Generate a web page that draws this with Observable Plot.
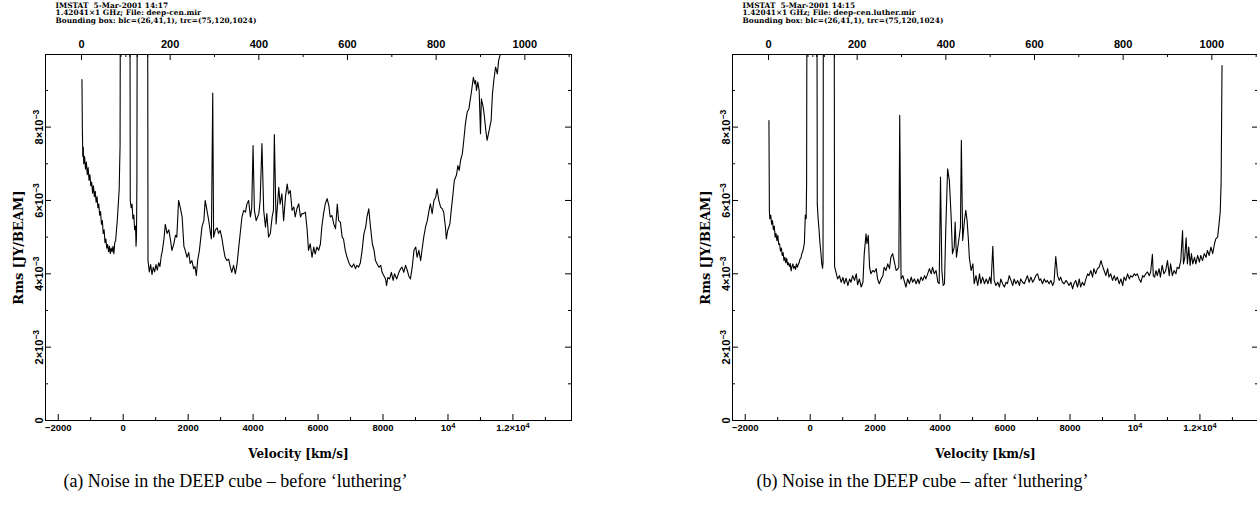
<!DOCTYPE html>
<html>
<head>
<meta charset="utf-8">
<script src="https://cdn.jsdelivr.net/npm/d3@7"></script>
<script src="https://cdn.jsdelivr.net/npm/@observablehq/plot@0.6"></script>
<style>
  body { margin: 0; background: #fff; }
  #page { position: relative; width: 1257px; height: 515px; overflow: hidden; background: #fff; }
  .panel { position: absolute; top: 0; width: 686px; height: 515px; }
  .panel svg { max-width: none !important; width: 686px; height: 515px; }
</style>
</head>
<body>
<div id="page">
  <div class="panel" id="panelA" style="left:0px"></div>
  <div class="panel" id="panelB" style="left:687px"></div>
</div>
<script>
// RMS noise per channel of the DEEP cube, in units of 10^-3 Jy/beam: [channel, rms]
// Values above the top of the plot are the strong-line channels that run off scale.
const rmsBefore = [
  [1, 9.3], [2, 7.9], [3, 7.2], [4, 7.45], [5, 7.0], [7, 7.2], [9, 6.85], [11, 7.05], [13, 6.7],
  [15, 6.9], [17, 6.55], [19, 6.7], [21, 6.4], [23, 6.5], [25, 6.2], [27, 6.4], [29, 6.1],
  [31, 6.25], [33, 5.95], [35, 6.1], [37, 5.8], [39, 5.9], [41, 5.6], [43, 5.7], [45, 5.35],
  [47, 5.45], [49, 5.1], [51, 5.2], [53, 4.85], [55, 4.95], [57, 4.7], [59, 4.8], [61, 4.6],
  [63, 4.75], [65, 4.55], [67, 4.7], [69, 4.6], [71, 4.75], [73, 4.55], [75, 4.85], [77, 4.9],
  [79, 5.2], [81, 5.5], [83, 5.9], [85, 6.3], [87, 7.5], [88, 14], [109, 14], [110, 6.0],
  [112, 5.8], [114, 5.9], [116, 5.5], [118, 5.6], [120, 5.2], [122, 5.3], [123, 4.75], [124, 5.0],
  [125, 6.5], [126, 14], [149, 14], [150, 4.36], [153, 4.05], [156, 4.25], [159, 3.98], [162, 4.18],
  [165, 4.05], [168, 4.25], [171, 4.1], [174, 4.3], [177, 4.2], [180, 4.5], [182, 4.6], [186, 4.95],
  [189, 5.35], [193, 5.1], [197, 5.2], [201, 4.9], [204, 4.64], [208, 4.8], [212, 5.05], [215, 5.0],
  [219, 6.0], [223, 5.8], [227, 5.55], [231, 4.75], [234, 4.64], [238, 4.45], [242, 4.58], [245, 4.28],
  [249, 4.36], [253, 4.14], [256, 4.2], [259, 3.95], [262, 4.36], [266, 4.64], [272, 5.3], [276, 5.45],
  [279, 6.0], [283, 5.73], [287, 5.45], [291, 5.1], [293, 4.95], [296, 8.93], [298, 5.0], [302, 5.2],
  [306, 5.25], [309, 5.1], [313, 5.18], [317, 4.95], [321, 4.64], [324, 4.45], [328, 4.36], [332, 4.4],
  [336, 4.17], [339, 4.04], [343, 4.23], [347, 4.0], [351, 4.28], [354, 4.64], [358, 5.1], [362, 5.55],
  [366, 5.73], [370, 5.68], [373, 5.9], [377, 6.0], [381, 5.55], [384, 5.8], [387, 7.5], [390, 5.73],
  [394, 5.45], [400, 5.64], [403, 6.0], [407, 7.55], [411, 5.73], [415, 5.27], [418, 5.64], [422, 5.0],
  [426, 5.1], [430, 5.55], [433, 5.73], [435, 7.8], [439, 5.36], [445, 6.36], [448, 5.9], [452, 6.18],
  [456, 5.45], [460, 6.09], [464, 6.45], [467, 6.18], [471, 6.27], [475, 5.73], [479, 5.82], [482, 5.55],
  [486, 5.78], [490, 5.91], [494, 5.55], [497, 5.64], [501, 5.64], [505, 5.68], [509, 5.2], [512, 4.64],
  [516, 4.82], [520, 4.45], [524, 4.73], [527, 4.54], [531, 4.73], [535, 4.64], [539, 4.82], [542, 5.27],
  [546, 5.64], [550, 5.91], [554, 6.05], [558, 5.86], [561, 5.55], [565, 5.59], [569, 5.36], [573, 5.23],
  [577, 5.9], [580, 5.45], [584, 5.41], [588, 5.0], [591, 4.95], [595, 4.64], [599, 4.45], [603, 4.31],
  [606, 4.23], [610, 4.18], [614, 4.27], [618, 4.14], [621, 4.23], [625, 4.18], [629, 4.3], [633, 4.64],
  [637, 5.09], [641, 5.27], [644, 5.55], [648, 5.77], [652, 5.27], [656, 4.82], [660, 4.64], [663, 4.36],
  [667, 4.27], [671, 4.18], [675, 4.23], [678, 4.04], [682, 3.95], [686, 3.86], [688, 3.68], [691, 3.9],
  [695, 3.86], [699, 4.04], [703, 3.82], [706, 4.0], [711, 3.86], [716, 4.04], [720, 4.14], [723, 4.18],
  [727, 4.04], [731, 4.23], [735, 4.09], [738, 3.95], [742, 3.86], [746, 4.18], [750, 4.64], [754, 4.73],
  [757, 4.45], [761, 4.64], [765, 4.36], [769, 4.73], [772, 5.0], [776, 5.27], [780, 5.45], [784, 5.73],
  [787, 5.91], [791, 5.64], [795, 6.0], [799, 6.09], [802, 6.32], [806, 6.0], [810, 5.82], [814, 5.77],
  [817, 5.68], [821, 5.27], [823, 4.95], [826, 5.18], [831, 5.36], [834, 5.73], [838, 6.18], [841, 6.54],
  [846, 6.7], [849, 6.95], [852, 6.82], [855, 7.09], [859, 7.27], [862, 7.6], [866, 8.09], [870, 8.41],
  [874, 8.5], [876, 8.68], [879, 8.91], [881, 9.09], [884, 9.36], [887, 9.18], [889, 9.27], [891, 9.0],
  [894, 9.23], [897, 9.0], [900, 7.82], [902, 8.77], [906, 8.55], [909, 8.27], [912, 7.91], [915, 7.64],
  [918, 7.82], [921, 8.0], [924, 8.18], [927, 8.91], [930, 9.27], [934, 9.64], [938, 9.45], [941, 9.82],
  [945, 10.0], [949, 10.3], [960, 10.8], [985, 11.6], [1024, 12.5]
];

const rmsAfter = [
  [1, 8.18], [2, 5.7], [3, 5.5], [5, 5.6], [7, 5.35], [9, 5.45], [11, 5.2], [13, 5.3], [15, 5.0],
  [17, 5.1], [19, 4.9], [21, 5.05], [23, 4.8], [25, 4.82], [27, 4.62], [29, 4.7], [31, 4.5], [33, 4.58],
  [35, 4.36], [37, 4.45], [39, 4.3], [41, 4.42], [43, 4.25], [45, 4.3], [47, 4.2], [49, 4.28], [51, 4.08],
  [53, 4.2], [55, 4.27], [57, 4.15], [59, 4.2], [61, 4.12], [63, 4.27], [65, 4.18], [67, 4.25], [69, 4.3],
  [71, 4.4], [73, 4.42], [75, 4.55], [77, 4.6], [79, 4.7], [81, 4.85], [83, 5.6], [85, 5.5], [86, 6.5],
  [87, 14], [109, 14], [110, 5.9], [112, 5.5], [114, 5.2], [116, 4.85], [118, 4.6], [120, 4.3],
  [122, 4.15], [123, 4.3], [124, 14], [148, 14], [149, 4.2], [152, 4.05], [156, 3.86], [160, 3.95],
  [164, 3.77], [168, 3.9], [171, 3.73], [175, 3.88], [179, 3.68], [183, 3.86], [186, 3.77], [190, 3.95],
  [194, 3.82], [198, 4.0], [201, 3.7], [205, 3.86], [209, 3.64], [213, 3.77], [216, 4.55], [220, 5.09],
  [222, 4.82], [225, 5.05], [228, 4.18], [231, 4.0], [235, 4.09], [239, 4.05], [243, 4.14], [246, 3.86],
  [250, 3.73], [254, 3.86], [258, 3.95], [261, 4.18], [265, 4.09], [269, 4.27], [273, 4.14], [276, 4.45],
  [280, 4.55], [284, 4.32], [288, 4.09], [291, 4.12], [294, 4.18], [296, 8.32], [299, 3.86], [303, 3.95],
  [307, 3.77], [310, 3.64], [314, 3.86], [318, 3.73], [322, 3.91], [325, 3.77], [329, 3.86], [333, 3.73],
  [337, 3.86], [340, 3.73], [344, 3.91], [348, 3.82], [352, 3.95], [355, 3.86], [359, 4.0], [363, 4.14],
  [367, 4.0], [370, 4.18], [374, 4.0], [378, 4.09], [382, 3.77], [385, 3.73], [388, 6.64], [391, 4.09],
  [394, 3.68], [397, 3.73], [400, 5.27], [404, 6.86], [408, 6.54], [412, 5.55], [415, 4.55], [419, 4.73],
  [421, 5.41], [424, 4.45], [427, 4.73], [430, 4.99], [433, 5.27], [435, 7.64], [438, 4.91], [442, 5.45],
  [445, 5.73], [448, 5.45], [451, 4.91], [453, 4.45], [457, 4.09], [461, 4.27], [464, 3.73], [468, 3.95],
  [472, 3.68], [476, 4.0], [479, 3.73], [483, 3.91], [487, 3.73], [491, 3.86], [495, 3.73], [499, 3.91],
  [502, 3.73], [506, 4.75], [509, 3.82], [513, 3.68], [517, 3.77], [521, 3.64], [524, 3.86], [528, 3.73],
  [532, 3.64], [536, 3.77], [539, 3.73], [543, 3.95], [547, 3.82], [551, 3.68], [554, 3.86], [558, 3.73],
  [562, 3.82], [566, 3.68], [569, 3.86], [573, 3.77], [577, 3.73], [581, 3.86], [584, 3.95], [588, 3.77],
  [592, 3.91], [596, 3.77], [600, 3.86], [603, 3.95], [607, 4.0], [611, 3.82], [614, 3.86], [618, 3.73],
  [622, 3.86], [626, 3.77], [629, 3.82], [633, 3.73], [637, 3.82], [641, 3.68], [644, 3.77], [648, 4.47],
  [652, 3.95], [656, 3.82], [659, 3.91], [663, 3.77], [667, 3.73], [671, 3.82], [674, 3.77], [678, 3.68],
  [682, 3.77], [686, 3.59], [689, 3.73], [693, 3.82], [697, 3.64], [701, 3.86], [704, 3.64], [708, 3.77],
  [712, 3.68], [716, 3.86], [720, 4.0], [723, 3.95], [727, 4.09], [731, 3.91], [734, 4.14], [738, 4.0],
  [742, 4.14], [746, 4.18], [750, 4.36], [753, 4.23], [757, 4.09], [761, 3.95], [765, 4.14], [768, 3.91],
  [772, 4.0], [776, 3.82], [780, 3.95], [783, 3.82], [787, 3.91], [791, 3.73], [795, 3.86], [799, 3.68],
  [802, 3.91], [806, 3.82], [810, 4.0], [814, 3.86], [817, 3.95], [821, 3.91], [825, 4.0], [828, 3.95],
  [832, 4.0], [836, 3.86], [840, 3.77], [844, 3.95], [847, 3.91], [851, 4.0], [855, 4.05], [859, 3.95],
  [862, 4.05], [866, 4.53], [868, 3.95], [871, 3.91], [874, 4.09], [877, 3.95], [881, 4.14], [884, 3.91],
  [888, 4.23], [892, 4.0], [896, 4.09], [900, 4.36], [904, 3.95], [907, 4.27], [911, 3.95], [915, 4.09],
  [919, 4.0], [922, 4.18], [926, 4.14], [930, 4.36], [934, 5.18], [936, 4.27], [939, 4.45], [942, 4.98],
  [945, 4.27], [948, 4.73], [951, 4.23], [954, 4.55], [957, 4.27], [961, 4.45], [964, 4.27], [968, 4.5],
  [972, 4.32], [975, 4.5], [979, 4.36], [983, 4.55], [987, 4.45], [990, 4.64], [994, 4.5], [998, 4.73],
  [1002, 4.55], [1006, 4.82], [1009, 4.95], [1013, 5.0], [1016, 5.32], [1019, 5.7], [1021, 6.5],
  [1022, 8.0], [1023, 9.68]
];

// Bottom axis: velocity (km/s); "^" starts a superscript
const velocityMajor = [-2000, 0, 2000, 4000, 6000, 8000, 10000, 12000];
const velocityLabels = ["\u22122000", "0", "2000", "4000", "6000", "8000", "10^4", "1.2\u00d710^4"];
const velocityMinor = [-1000, 1000, 3000, 5000, 7000, 9000, 11000, 13000];

// Top axis: channel number
const channelMajor = [0, 200, 400, 600, 800, 1000];
const channelMinor = [100, 300, 500, 700, 900, 1100];
const channelFlagged = [89, 109, 126, 149];

// Left / right axis: rms in units of 10^-3 Jy/beam
const rmsMajor = [0, 2, 4, 6, 8];
const rmsLabels = ["0", "2\u00d710^\u22123", "4\u00d710^\u22123", "6\u00d710^\u22123", "8\u00d710^\u22123"];
const rmsMinor = [1, 3, 5, 7, 9];

const headerBefore = "IMSTAT  5-Mar-2001 14:17\n1.42041\u00d71 GHz; File: deep-cen.mir\nBounding box: blc=(26,41,1), trc=(75,120,1024)";
const headerAfter = "IMSTAT  5-Mar-2001 14:15\n1.42041\u00d71 GHz; File: deep-cen.luther.mir\nBounding box: blc=(26,41,1), trc=(75,120,1024)";
const captionBefore = "(a) Noise in the DEEP cube \u2013 before \u2018luthering\u2019";
const captionAfter = "(b) Noise in the DEEP cube \u2013 after \u2018luthering\u2019";

// Velocity of channel 0 and channel width (km/s) for the frequency axis
const VEL0 = -1284, DV = 13.65;
const velToChannel = v => (v - VEL0) / DV;

// Turn "a^b" tick labels into a base plus a raised, smaller exponent
function raiseExponents(svg) {
  d3.select(svg).selectAll("text").each(function () {
    const s = this.textContent;
    const k = s.indexOf("^");
    if (k < 0) return;
    const t = d3.select(this);
    t.text(null);
    t.append("tspan").text(s.slice(0, k));
    t.append("tspan").attr("dy", "-0.45em").attr("font-size", "78%").text(s.slice(k + 1));
  });
  return svg;
}

function panel(rows, header, caption) {
  const W = 686, H = 515, mt = 54, mb = 95, ml = 45, mr = 115;
  const fw = W - ml - mr, fh = H - mt - mb;
  const data = rows.map(([ch, rms]) => ({ch, rms}));
  const sans = "'Liberation Sans', Arial, sans-serif";
  const serif = "'DejaVu Serif', serif";
  const tick = {fontFamily: sans, fontWeight: "bold", fontSize: 9.5};
  const major = 6, minor = 3;
  const svg = Plot.plot({
    width: W, height: H,
    marginTop: mt, marginBottom: mb, marginLeft: ml, marginRight: mr,
    x: {domain: [-81.2, 1105.3], axis: null},
    y: {domain: [0, 9.98], axis: null},
    style: {background: "white", color: "black"},
    marks: [
      Plot.line(data, {x: "ch", y: "rms", stroke: "black", strokeWidth: 1.1, clip: true}),
      Plot.frame({stroke: "black", strokeWidth: 1}),
      // bottom velocity ticks (inward)
      Plot.ruleX(velocityMajor.map(velToChannel), {x: d => d, insetTop: fh - major, stroke: "black"}),
      Plot.ruleX(velocityMinor.map(velToChannel), {x: d => d, insetTop: fh - minor, stroke: "black"}),
      // top channel ticks (inward)
      Plot.ruleX(channelMajor, {x: d => d, insetBottom: fh - major, stroke: "black"}),
      Plot.ruleX(channelMinor, {x: d => d, insetBottom: fh - minor, stroke: "black"}),
      Plot.ruleX(channelFlagged, {x: d => d, insetBottom: fh - minor, stroke: "black"}),
      // left and right rms ticks (inward)
      Plot.ruleY(rmsMajor, {y: d => d, insetRight: fw - major, stroke: "black"}),
      Plot.ruleY(rmsMinor, {y: d => d, insetRight: fw - minor, stroke: "black"}),
      Plot.ruleY(rmsMajor, {y: d => d, insetLeft: fw - major, stroke: "black"}),
      Plot.ruleY(rmsMinor, {y: d => d, insetLeft: fw - minor, stroke: "black"}),
      // tick labels
      Plot.text(velocityMajor, {x: velToChannel, text: (d, i) => velocityLabels[i], frameAnchor: "bottom", textAnchor: "middle", lineAnchor: "top", dy: 4, ...tick}),
      Plot.text(channelMajor, {x: d => d, text: d => String(d), frameAnchor: "top", textAnchor: "middle", lineAnchor: "bottom", dy: -7, ...tick, fontSize: 11}),
      Plot.text(rmsMajor, {y: d => d, text: (d, i) => rmsLabels[i], frameAnchor: "left", rotate: -90, textAnchor: "middle", lineAnchor: "bottom", dx: -3, ...tick, fontSize: 11}),
      // axis titles
      Plot.text(["Velocity [km/s]"], {frameAnchor: "bottom", textAnchor: "middle", dx: -10, dy: 34, lineAnchor: "middle", fontFamily: serif, fontWeight: "bold", fontSize: 12}),
      Plot.text(["Rms [JY/BEAM]"], {frameAnchor: "left", textAnchor: "middle", dx: -27, dy: 10, rotate: -90, lineAnchor: "middle", fontFamily: serif, fontWeight: "bold", fontSize: 13}),
      // header
      Plot.text([header], {frameAnchor: "top-left", dx: 10, dy: -52, textAnchor: "start", lineAnchor: "top", lineHeight: 1.0, fontFamily: serif, fontWeight: "bold", fontSize: 7.4}),
      // caption
      Plot.text([caption], {frameAnchor: "bottom", textAnchor: "middle", dx: -73, dy: 61, lineAnchor: "middle", fontFamily: "'Liberation Serif', serif", fontSize: 18})
    ]
  });
  return raiseExponents(svg);
}

document.getElementById("panelA").append(panel(rmsBefore, headerBefore, captionBefore));
document.getElementById("panelB").append(panel(rmsAfter, headerAfter, captionAfter));
</script>
</body>
</html>
